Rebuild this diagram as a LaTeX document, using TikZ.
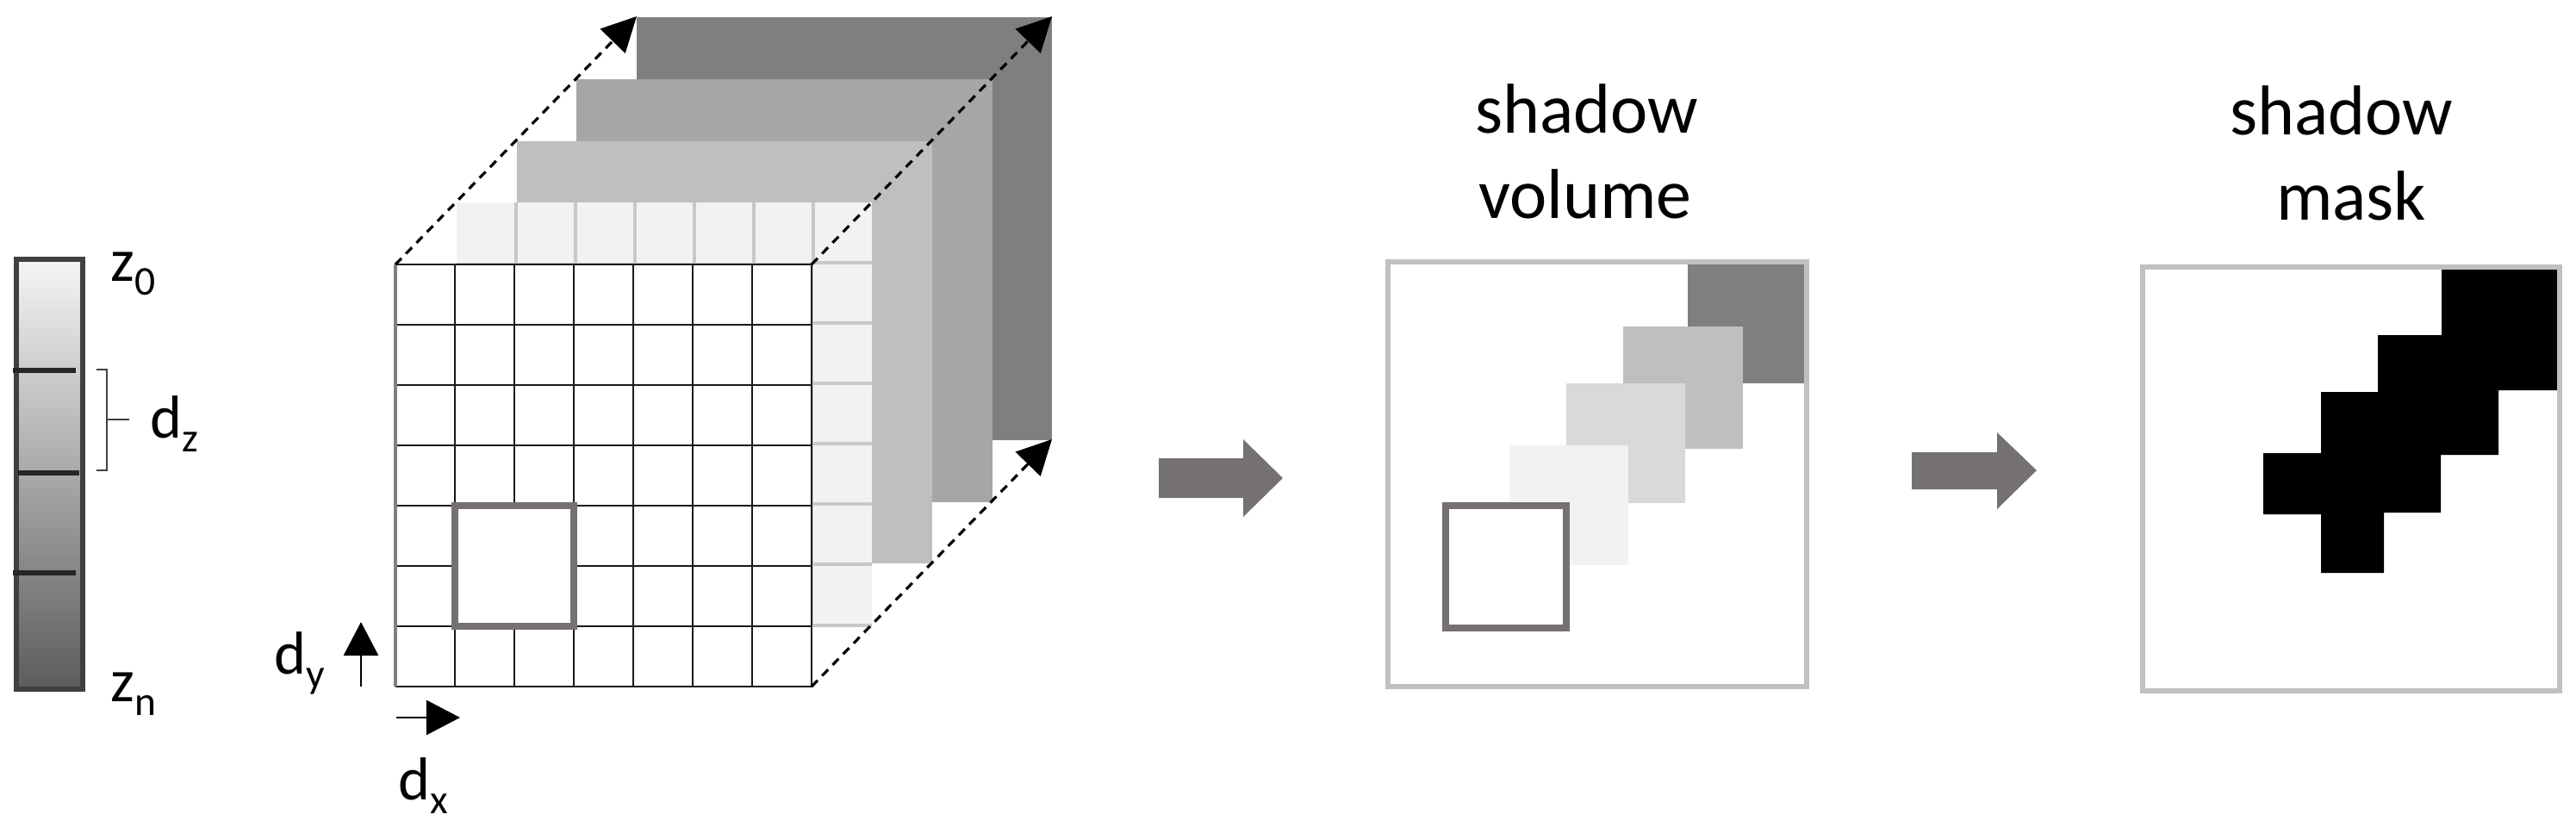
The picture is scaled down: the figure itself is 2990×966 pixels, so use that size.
\documentclass[tikz,border=0pt]{standalone}
\usepackage{fontspec}
\setmainfont{Carlito}
\usetikzlibrary{arrows.meta}
\definecolor{arrgray}{HTML}{767171}
\definecolor{barborder}{HTML}{404040}
\definecolor{barline}{HTML}{262626}
\definecolor{lay1}{HTML}{F2F2F2}
\definecolor{lay1line}{HTML}{C8C8C8}
\definecolor{lay2}{HTML}{BFBFBF}
\definecolor{lay3}{HTML}{A6A6A6}
\definecolor{lay4}{HTML}{7F7F7F}
\definecolor{boxgray}{HTML}{C0C0C0}
\definecolor{vlight}{HTML}{D9D9D9}
\newcommand\lbl[2]{#1\raisebox{-4.6pt}{\fontsize{13.5}{16}\selectfont #2}}
\tikzset{
  lab/.style={anchor=base west, inner sep=0pt, font=\fontsize{20}{24}\selectfont},
  title/.style={anchor=base, inner sep=0pt, font=\fontsize{23.3}{28}\selectfont},
  gridline/.style={line width=0.026cm, color=black!90},
  l1line/.style={line width=0.035cm, color=lay1line},
  dasharrow/.style={line width=0.032cm, dash pattern=on 0.1cm off 0.075cm, -{Triangle[length=0.4cm,width=0.4cm]}},
  smallarrow/.style={line width=0.028cm, -{Triangle[length=0.39cm,width=0.4cm]}},
  panelbox/.style={line width=0.065cm, color=boxgray},
  shadowsq/.style={line width=0.075cm, draw=arrgray, fill=white},
  blockarrow/.style={fill=arrgray},
}
\begin{document}
\begin{tikzpicture}[x=0.01cm,y=-0.01cm]
\useasboundingbox (0,0) rectangle (2990,966);

% ---------- gradient bar ----------
\shade[top color=white!96!black, bottom color=black!64] (19,301) rectangle (96,800);
\draw[line width=0.06cm, color=barborder] (19,301) rectangle (96,800);
\draw[line width=0.06cm, color=barline] (15,430) -- (88,430);
\draw[line width=0.06cm, color=barline] (21,549) -- (92,549);
\draw[line width=0.06cm, color=barline] (15,665) -- (88,665);
\draw[line width=0.02cm, color=barborder] (112,429) -- (124,429) -- (124,546) -- (112,546);
\draw[line width=0.02cm, color=barborder] (124,487) -- (150,487);
\node[lab] (z0) at (128,326) {\lbl{z}{0}};
\node[lab] (dz) at (174,508) {\lbl{d}{z}};
\node[lab] (zn) at (128,814) {\lbl{z}{n}};

% ---------- stacked layers ----------
\fill[lay4] (739,20) rectangle (1221,511);
\fill[lay3] (669,92) rectangle (1152,583);
\fill[lay2] (600,164) rectangle (1082,654);
\fill[lay1] (530,235) rectangle (1012,726);
\foreach \i in {1,...,6} {
  \draw[l1line] (530+69*\i,235) -- (530+69*\i,307);
  \draw[l1line] (942,235+70*\i) -- (1012,235+70*\i);
}
\draw[l1line] (530,307) -- (942,307);
\draw[l1line] (942,307) -- (942,726);
\draw[l1line] (530,726) -- (1012,726);

% ---------- front grid ----------
\fill[white] (459,307) rectangle (942,797);
\foreach \i in {1,...,6} {
  \draw[gridline] (459+69*\i,307) -- (459+69*\i,797);
  \draw[gridline] (459,307+70*\i) -- (942,307+70*\i);
}
\draw[gridline] (942,307) -- (942,797) -- (459,797);
\draw[gridline] (459,307) -- (942,307);
\draw[line width=0.035cm, color=black!50] (459,307) -- (459,797);
\draw[shadowsq] (528,587) rectangle (666,727);

\coordinate (gTL) at (459,307);
\coordinate (gTR) at (942,307);
\coordinate (gBR) at (942,797);
\coordinate (bTL) at (739,19);
\coordinate (bTR) at (1221,19);
\coordinate (bBR) at (1221,510);
\draw[dasharrow] (gTL) -- (bTL);
\draw[dasharrow] (gTR) -- (bTR);
\draw[dasharrow] (gBR) -- (bBR);

% d_y, d_x
\coordinate (dyS) at (419,797);
\coordinate (dyE) at (419,722);
\coordinate (dxS) at (460,833);
\coordinate (dxE) at (534,833);
\draw[smallarrow] (dyS) -- (dyE);
\draw[smallarrow] (dxS) -- (dxE);
\node[lab] (dy) at (318,782) {\lbl{d}{y}};
\node[lab] (dx) at (462,928) {\lbl{d}{x}};

% ---------- arrow 1 ----------
\fill[blockarrow] (1345,532) -- (1443,532) -- (1443,510) -- (1489,555) -- (1443,600) -- (1443,578) -- (1345,578) -- cycle;

% ---------- shadow volume ----------
\node[title] (sv1) at (1842,154) {shadow};
\node[title] (sv2) at (1840,253) {volume};
\fill[lay4] (1959,304) rectangle (2094,445);
\fill[lay2] (1884,379) rectangle (2023,521);
\fill[vlight] (1818,445) rectangle (1956,584);
\fill[lay1] (1752,517) rectangle (1890,656);
\draw[shadowsq] (1678,587) rectangle (1818,729);
\draw[panelbox] (1611,304) rectangle (2097,797);

% ---------- arrow 2 ----------
\fill[blockarrow] (2219,525) -- (2318,525) -- (2318,502) -- (2364,546) -- (2318,591) -- (2318,568) -- (2219,568) -- cycle;

% ---------- shadow mask ----------
\node[title] (sm1) at (2718,156) {shadow};
\node[title] (sm2) at (2729,255) {mask};
\begin{scope}[shift={(2487,310)}]
\fill[black] (347,3) -- (482,3) -- (482,143) -- (413,143) -- (413,218) -- (346,218) -- (346,285) -- (280,285) -- (280,355) -- (207,355) -- (207,287) -- (140,287) -- (140,216) -- (207,216) -- (207,145) -- (273,145) -- (273,79) -- (347,79) -- cycle;
\end{scope}
\draw[panelbox] (2487,310) rectangle (2971,802);
\end{tikzpicture}
\end{document}
